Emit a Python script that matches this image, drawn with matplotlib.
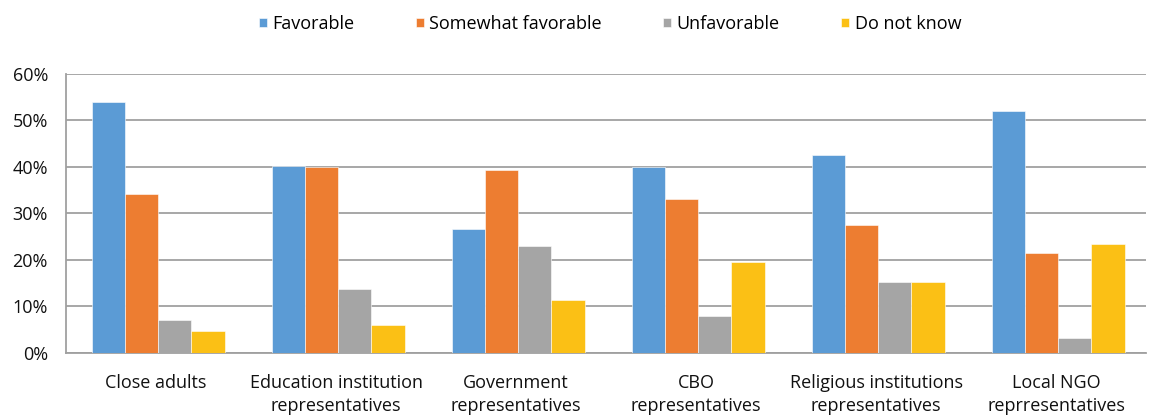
import matplotlib
matplotlib.use("Agg")
import matplotlib.pyplot as plt
import numpy as np

categories = [
    "Close adults",
    "Education institution\nrepresentatives",
    "Government\nrepresentatives",
    "CBO\nrepresentatives",
    "Religious institutions\nrepresentatives",
    "Local NGO\nreprresentatives",
]
series_names = ["Favorable", "Somewhat favorable", "Unfavorable", "Do not know"]
favorable = [54.0, 40.2, 26.5, 40.0, 42.5, 52.0]
somewhat_favorable = [34.1, 39.9, 39.3, 33.1, 27.5, 21.4]
unfavorable = [7.0, 13.8, 22.9, 8.0, 15.2, 3.1]
do_not_know = [4.7, 6.0, 11.3, 19.4, 15.2, 23.4]
yticks = [0, 10, 20, 30, 40, 50, 60]

colors = ["#5B9BD5", "#ED7D31", "#A5A5A5", "#FBC015"]
series = [favorable, somewhat_favorable, unfavorable, do_not_know]

plt.rcParams["font.family"] = ["Open Sans", "DejaVu Sans"]

fig = plt.figure(figsize=(11.53, 4.17), dpi=100)
ax = fig.add_axes([66 / 1153, 1 - 352.7 / 417, 1080 / 1153, 279 / 417])

x = np.arange(len(categories))
width = 0.185
for i, (vals, col, name) in enumerate(zip(series, colors, series_names)):
    ax.bar(x + (i - 1.5) * width + 0.012, vals, width, color=col, label=name,
           edgecolor="white", linewidth=0.4, zorder=3)

ax.set_xlim(-0.5, len(categories) - 0.5)
ax.set_ylim(0, 60)
ax.set_yticks(yticks)
ax.set_yticklabels([f"{v}%" for v in yticks], fontsize=13, color="#111111")
ax.yaxis.grid(True, color="#A0A0A0", linewidth=1.3, zorder=0)
ax.tick_params(axis="y", length=0, pad=13)
ax.tick_params(axis="x", length=0)
ax.set_xticks([])
for s in ["top", "right"]:
    ax.spines[s].set_visible(False)
for s in ["left", "bottom"]:
    ax.spines[s].set_color("#A0A0A0")
    ax.spines[s].set_linewidth(1.3)

for xi, label in zip(x, categories):
    ax.annotate(label, xy=(xi, 0), xycoords=("data", "data"),
                xytext=(0, -15.5), textcoords="offset points",
                ha="center", va="top", fontsize=13, color="#111111",
                linespacing=1.32, annotation_clip=False)

fig.legend(loc="center", bbox_to_anchor=(610 / 1153, 1 - 24 / 417), ncol=4,
           frameon=False, fontsize=13, handlelength=0.45, handleheight=0.45,
           handletextpad=0.3, columnspacing=3.4)

fig.savefig("out.png", dpi=100)
